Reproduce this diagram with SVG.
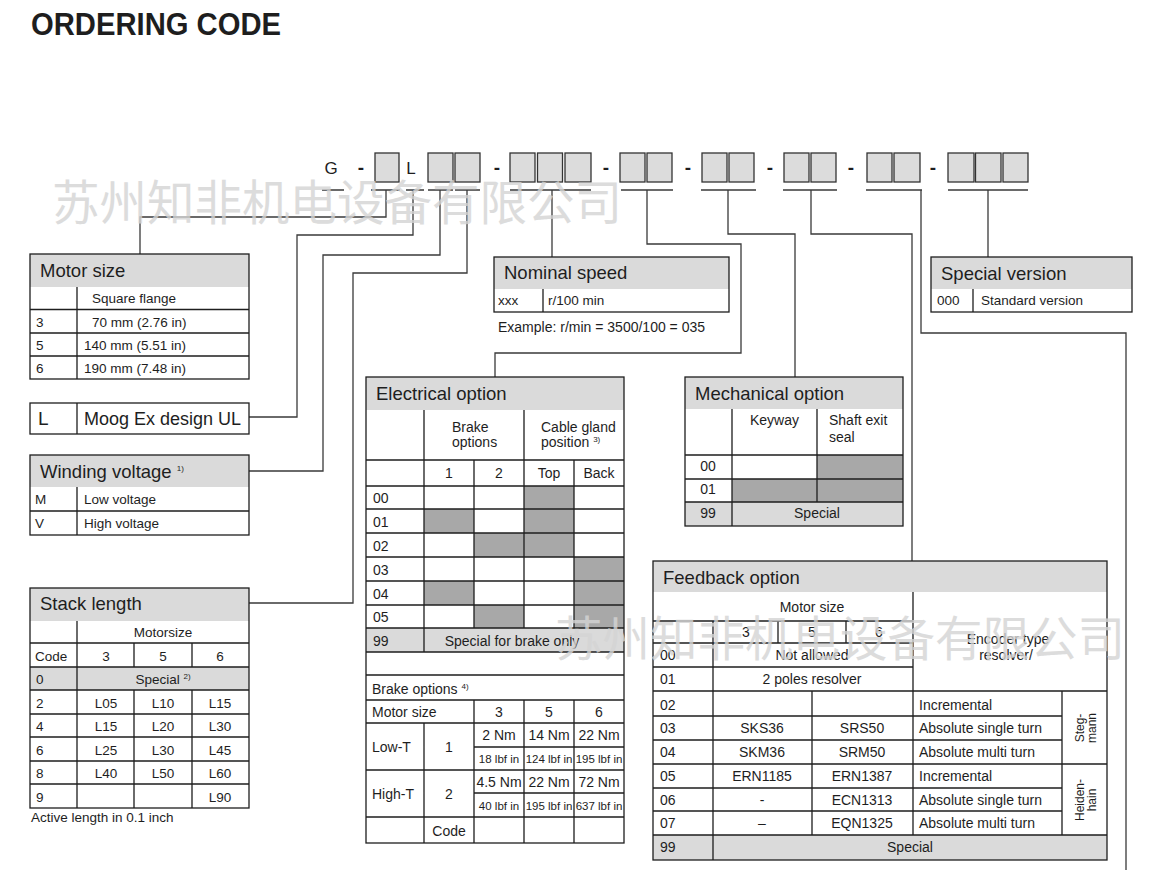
<svg xmlns="http://www.w3.org/2000/svg" width="1171" height="870" viewBox="0 0 1171 870">
<style>
.ln{stroke:#1e1e1e;stroke-width:1.3;fill:none}
.cn{stroke:#3a3a3a;stroke-width:1.3;fill:none}
.hd{fill:#dadada}
.dk{fill:#a8a8a8}
.bx{fill:#dcdcdc;stroke:#333;stroke-width:1.3}
text{font-family:"Liberation Sans",Arial,sans-serif;fill:#1e1e1e}
.h{font-size:18.5px}
.b{font-size:14px}
.m{font-size:13.5px}
.s{font-size:11.5px}
.r{font-size:12px}
.c{text-anchor:middle}
.sup{font-size:8px}
.code{font-size:17px}
.dash{font-size:19px;font-weight:bold}
.wm{font-family:"Noto Sans CJK SC",sans-serif;font-size:47.5px;fill:#d4d4d4;opacity:0.8}
</style>

<text x="31" y="35" font-size="31" font-weight="bold" textLength="250" lengthAdjust="spacingAndGlyphs">ORDERING CODE</text>

<g id="code-row">
<text class="code c" x="331" y="174">G</text>
<text class="dash c" x="361" y="174">-</text>
<rect class="bx" x="375" y="153" width="24" height="29"/>
<text class="code c" x="411" y="174">L</text>
<rect class="bx" x="428" y="153" width="25" height="29"/>
<rect class="bx" x="455" y="153" width="25" height="29"/>
<text class="dash c" x="497" y="174">-</text>
<rect class="bx" x="510" y="153" width="25" height="29"/>
<rect class="bx" x="537.5" y="153" width="25" height="29"/>
<rect class="bx" x="565" y="153" width="26" height="29"/>
<text class="dash c" x="606" y="174">-</text>
<rect class="bx" x="620" y="153" width="25" height="29"/>
<rect class="bx" x="647" y="153" width="25" height="29"/>
<text class="dash c" x="688" y="174">-</text>
<rect class="bx" x="702" y="153" width="25" height="29"/>
<rect class="bx" x="729" y="153" width="25" height="29"/>
<text class="dash c" x="770" y="174">-</text>
<rect class="bx" x="784" y="153" width="25" height="29"/>
<rect class="bx" x="811" y="153" width="25" height="29"/>
<text class="dash c" x="851" y="174">-</text>
<rect class="bx" x="867" y="153" width="25" height="29"/>
<rect class="bx" x="894" y="153" width="26" height="29"/>
<text class="dash c" x="933" y="174">-</text>
<rect class="bx" x="948" y="153" width="26" height="29"/>
<rect class="bx" x="975.5" y="153" width="25.5" height="29"/>
<rect class="bx" x="1003" y="153" width="25" height="29"/>
</g>

<g id="connectors">
<path class="cn" d="M322,190H344 M371,190H400 M406,190H424 M428,190H453 M455,190H480 M510,190H591 M621,190H673 M701,190H756 M783,190H837 M866,190H922 M948,190H1028"/>
<path class="cn" d="M386,190V217H140V254"/>
<path class="cn" d="M413,190V235H297V417H249"/>
<path class="cn" d="M440,190V255H323V471H249"/>
<path class="cn" d="M467,190V273H353V603H249"/>
<path class="cn" d="M552,190V257"/>
<path class="cn" d="M647,190V244H741V353H495V377"/>
<path class="cn" d="M728,190V234H795V377"/>
<path class="cn" d="M811,190V234H912V561"/>
<path class="cn" d="M921,190V333H1126V870"/>
<path class="cn" d="M988,190V257"/>
</g>

<g id="motor-size">
<rect class="hd" x="30" y="254" width="219" height="33"/>
<rect class="ln" x="30" y="254" width="219" height="125"/>
<path class="ln" d="M77,287V379 M30,309.5H249 M30,333H249 M30,356H249"/>
<text class="h" x="40" y="277">Motor size</text>
<text class="m" x="92" y="303">Square flange</text>
<text class="m" x="36" y="327">3</text><text class="m" x="92" y="327">70 mm (2.76 in)</text>
<text class="m" x="36" y="350">5</text><text class="m" x="84" y="350">140 mm (5.51 in)</text>
<text class="m" x="36" y="373">6</text><text class="m" x="84" y="373">190 mm (7.48 in)</text>
</g>

<g id="design">
<rect class="ln" x="30" y="403" width="219" height="31"/>
<path class="ln" d="M77,403V434"/>
<text x="38" y="425" font-size="19">L</text>
<text x="84" y="425" font-size="18">Moog Ex design UL</text>
</g>

<g id="winding-voltage">
<rect class="hd" x="30" y="455" width="219" height="32"/>
<rect class="ln" x="30" y="455" width="219" height="80"/>
<path class="ln" d="M77,487V535 M30,511H249"/>
<text class="h" x="40" y="478">Winding voltage <tspan class="sup" dy="-7">1)</tspan></text>
<text class="m" x="35" y="504">M</text><text class="m" x="84" y="504">Low voltage</text>
<text class="m" x="35" y="528">V</text><text class="m" x="84" y="528">High voltage</text>
</g>

<g id="stack-length">
<rect class="hd" x="30" y="588" width="219" height="33"/>
<rect class="hd" x="30" y="667" width="219" height="23"/>
<rect class="ln" x="30" y="588" width="219" height="220"/>
<path class="ln" d="M77,621V808 M30,643H249 M30,667H249 M30,690H249 M30,714H249 M30,737H249 M30,761H249 M30,784H249 M134,643V667 M192,643V667 M134,690V808 M192,690V808"/>
<text class="h" x="40" y="610">Stack length</text>
<text class="m c" x="163" y="637">Motorsize</text>
<text class="m" x="35" y="661">Code</text>
<text class="m c" x="106" y="661">3</text><text class="m c" x="163" y="661">5</text><text class="m c" x="220" y="661">6</text>
<text class="m" x="36" y="684">0</text>
<text class="m c" x="163" y="684">Special <tspan class="sup" dy="-5">2)</tspan></text>
<text class="m" x="36" y="708">2</text><text class="m c" x="106" y="708">L05</text><text class="m c" x="163" y="708">L10</text><text class="m c" x="220" y="708">L15</text>
<text class="m" x="36" y="731">4</text><text class="m c" x="106" y="731">L15</text><text class="m c" x="163" y="731">L20</text><text class="m c" x="220" y="731">L30</text>
<text class="m" x="36" y="755">6</text><text class="m c" x="106" y="755">L25</text><text class="m c" x="163" y="755">L30</text><text class="m c" x="220" y="755">L45</text>
<text class="m" x="36" y="778">8</text><text class="m c" x="106" y="778">L40</text><text class="m c" x="163" y="778">L50</text><text class="m c" x="220" y="778">L60</text>
<text class="m" x="36" y="802">9</text><text class="m c" x="220" y="802">L90</text>
<text class="m" x="31" y="822">Active length in 0.1 inch</text>
</g>

<g id="nominal-speed">
<rect class="hd" x="494" y="257" width="235" height="32"/>
<rect class="ln" x="494" y="257" width="235" height="55"/>
<path class="ln" d="M543,289V312"/>
<text class="h" x="504" y="279">Nominal speed</text>
<text class="m" x="498" y="305">xxx</text>
<text class="m" x="548" y="305">r/100 min</text>
<text class="b" x="498" y="332">Example: r/min = 3500/100 = 035</text>
</g>

<g id="special-version">
<rect class="hd" x="931" y="257" width="201" height="32"/>
<rect class="ln" x="931" y="257" width="201" height="55"/>
<path class="ln" d="M973,289V312"/>
<text class="h" x="941" y="280">Special version</text>
<text class="m" x="937" y="305">000</text>
<text class="m" x="981" y="305">Standard version</text>
</g>

<g id="electrical-option">
<rect class="hd" x="366" y="377" width="258" height="33"/>
<rect class="dk" x="524" y="486" width="50" height="23"/>
<rect class="dk" x="424" y="509" width="50" height="24"/>
<rect class="dk" x="524" y="509" width="50" height="24"/>
<rect class="dk" x="474" y="533" width="100" height="24"/>
<rect class="dk" x="574" y="557" width="50" height="24"/>
<rect class="dk" x="424" y="581" width="50" height="24"/>
<rect class="dk" x="574" y="581" width="50" height="24"/>
<rect class="dk" x="474" y="605" width="50" height="23"/>
<rect class="dk" x="574" y="605" width="50" height="23"/>
<rect class="hd" x="366" y="628" width="258" height="24"/>
<rect class="ln" x="366" y="377" width="258" height="466"/>
<path class="ln" d="M366,460H624 M366,486H624 M366,509H624 M366,533H624 M366,557H624 M366,581H624 M366,605H624 M366,628H624 M366,652H624 M366,675H624 M366,700H624 M366,723H624 M366,770H624 M366,817H624 M474,747H624 M474,793H624 M424,410V652 M524,410V628 M474,460V628 M574,460V628 M474,700V843 M524,700V843 M574,700V843 M424,723V843"/>
<text class="h" x="376" y="400">Electrical option</text>
<text class="b" x="452" y="432">Brake</text>
<text class="b" x="452" y="447">options</text>
<text class="b" x="541" y="432">Cable gland</text>
<text class="b" x="541" y="447">position <tspan class="sup" dy="-5">3)</tspan></text>
<text class="b c" x="449" y="478">1</text><text class="b c" x="499" y="478">2</text><text class="b c" x="549" y="478">Top</text><text class="b c" x="599" y="478">Back</text>
<text class="b" x="373" y="503">00</text>
<text class="b" x="373" y="527">01</text>
<text class="b" x="373" y="551">02</text>
<text class="b" x="373" y="575">03</text>
<text class="b" x="373" y="599">04</text>
<text class="b" x="373" y="622">05</text>
<text class="b" x="373" y="646">99</text>
<text class="b c" x="512" y="646">Special for brake only</text>
<text class="b" x="372" y="694">Brake options <tspan class="sup" dy="-5">4)</tspan></text>
<text class="b" x="372" y="717">Motor size</text>
<text class="b c" x="499" y="717">3</text><text class="b c" x="549" y="717">5</text><text class="b c" x="599" y="717">6</text>
<text class="b" x="372" y="752">Low-T</text>
<text class="b c" x="449" y="752">1</text>
<text class="b c" x="499" y="740">2 Nm</text><text class="b c" x="549" y="740">14 Nm</text><text class="b c" x="599" y="740">22 Nm</text>
<text class="s c" x="499" y="763">18 lbf in</text><text class="s c" x="549" y="763">124 lbf in</text><text class="s c" x="599" y="763">195 lbf in</text>
<text class="b" x="372" y="799">High-T</text>
<text class="b c" x="449" y="799">2</text>
<text class="b c" x="499" y="787">4.5 Nm</text><text class="b c" x="549" y="787">22 Nm</text><text class="b c" x="599" y="787">72 Nm</text>
<text class="s c" x="499" y="810">40 lbf in</text><text class="s c" x="549" y="810">195 lbf in</text><text class="s c" x="599" y="810">637 lbf in</text>
<text class="b c" x="449" y="836">Code</text>
</g>

<g id="mechanical-option">
<rect class="hd" x="685" y="377" width="218" height="32"/>
<rect class="dk" x="817" y="455" width="86" height="24"/>
<rect class="dk" x="732" y="479" width="171" height="23"/>
<rect class="hd" x="685" y="502" width="218" height="24"/>
<rect class="ln" x="685" y="377" width="218" height="149"/>
<path class="ln" d="M685,455H903 M685,479H903 M685,502H903 M732,409V526 M817,409V502"/>
<text class="h" x="695" y="400">Mechanical option</text>
<text class="b" x="750" y="425">Keyway</text>
<text class="b" x="829" y="425">Shaft exit</text>
<text class="b" x="829" y="442">seal</text>
<text class="b c" x="708" y="471">00</text>
<text class="b c" x="708" y="494">01</text>
<text class="b c" x="708" y="518">99</text>
<text class="b c" x="817" y="518">Special</text>
</g>

<g id="feedback-option">
<rect class="hd" x="653" y="561" width="454" height="31"/>
<rect class="hd" x="653" y="835" width="454" height="25"/>
<rect class="ln" x="653" y="561" width="454" height="299"/>
<path class="ln" d="M653,621H913 M653,643H913 M653,667H913 M653,691H1107 M653,716H1062 M653,740H1062 M653,764H1107 M653,788H1062 M653,811H1062 M653,835H1107 M913,592V835 M713,621V860 M778,621V643 M846,621V643 M812,691V835 M1062,691V835"/>
<text class="h" x="663" y="584">Feedback option</text>
<text class="b c" x="812" y="612">Motor size</text>
<text class="b c" x="746" y="637">3</text><text class="b c" x="812" y="637">5</text><text class="b c" x="879" y="637">6</text>
<text class="b" x="660" y="660">00</text><text class="b c" x="812" y="660">Not allowed</text>
<text class="b" x="660" y="684">01</text><text class="b c" x="812" y="684">2 poles resolver</text>
<text class="b c" x="1008" y="644">Encoder type</text>
<text class="b c" x="1006" y="660">resolver/</text>
<text class="b" x="660" y="710">02</text>
<text class="b" x="660" y="733">03</text>
<text class="b" x="660" y="757">04</text>
<text class="b" x="660" y="781">05</text>
<text class="b" x="660" y="805">06</text>
<text class="b" x="660" y="828">07</text>
<text class="b" x="660" y="852">99</text>
<text class="b c" x="762" y="733">SKS36</text><text class="b c" x="862" y="733">SRS50</text>
<text class="b c" x="762" y="757">SKM36</text><text class="b c" x="862" y="757">SRM50</text>
<text class="b c" x="762" y="781">ERN1185</text><text class="b c" x="862" y="781">ERN1387</text>
<text class="b c" x="762" y="805">-</text><text class="b c" x="862" y="805">ECN1313</text>
<text class="b c" x="762" y="828">–</text><text class="b c" x="862" y="828">EQN1325</text>
<text class="b" x="919" y="710">Incremental</text>
<text class="b" x="919" y="733">Absolute single turn</text>
<text class="b" x="919" y="757">Absolute multi turn</text>
<text class="b" x="919" y="781">Incremental</text>
<text class="b" x="919" y="805">Absolute single turn</text>
<text class="b" x="919" y="828">Absolute multi turn</text>
<text class="r c" transform="translate(1084,728) rotate(-90)"><tspan x="0" y="0">Steg-</tspan><tspan x="0" y="12">mann</tspan></text>
<text class="r c" transform="translate(1084,800) rotate(-90)"><tspan x="0" y="0">Heiden-</tspan><tspan x="0" y="12">hain</tspan></text>
<text class="b c" x="910" y="852">Special</text>
</g>

<g id="watermark">
<text class="wm" x="52" y="220">苏州知非机电设备有限公司</text>
<text class="wm" x="555" y="656">苏州知非机电设备有限公司</text>
</g>
</svg>
